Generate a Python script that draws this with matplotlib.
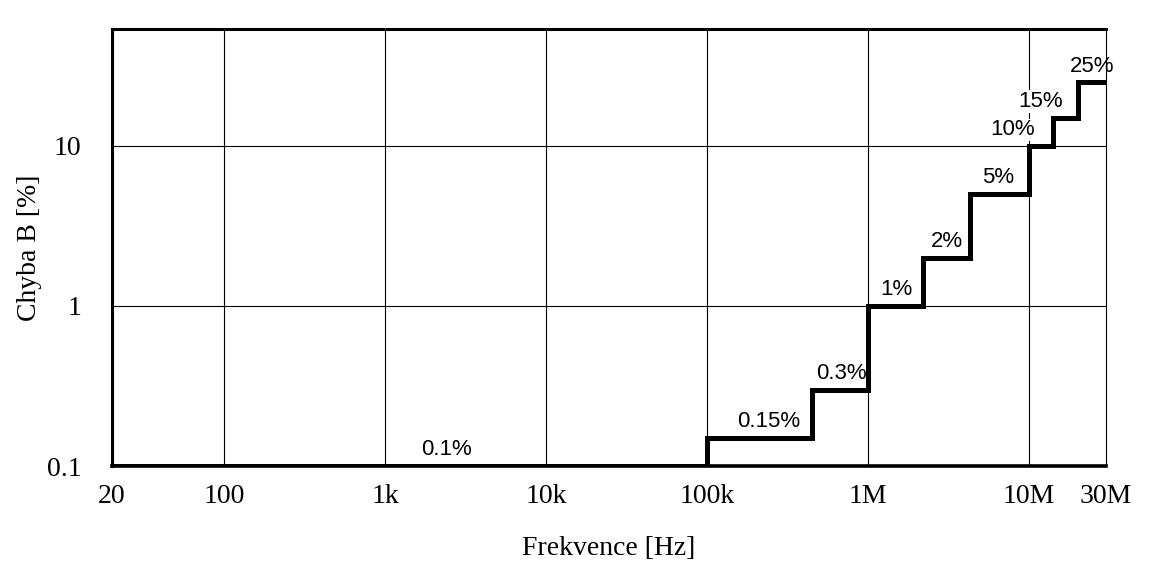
import matplotlib
matplotlib.use("Agg")
import matplotlib.pyplot as plt
from matplotlib.ticker import FixedLocator, FixedFormatter, NullLocator

# step edges (Hz) and error level on each step (%)
edges = [20, 1e5, 4.5e5, 1e6, 2.2e6, 4.3e6, 1e7, 1.4e7, 2e7, 3e7]
levels = [0.1, 0.15, 0.3, 1, 2, 5, 10, 15, 25]
labels = ["0.1%", "0.15%", "0.3%", "1%", "2%", "5%", "10%", "15%", "25%"]
label_x = [2.4e3, 2.4e5, 6.8e5, 1.5e6, 3.1e6, 6.4e6, 7.9e6, 1.17e7, 2.45e7]

xticks = [20, 100, 1e3, 1e4, 1e5, 1e6, 1e7, 3e7]
xtick_labels = ["20", "100", "1k", "10k", "100k", "1M", "10M", "30M"]
yticks = [0.1, 1, 10]
ytick_labels = ["0.1", "1", "10"]

serif = "Liberation Serif"
sans = "Liberation Sans"

fig = plt.figure(figsize=(11.51, 5.71), dpi=100)
ax = fig.add_axes([112 / 1151, 1 - 466 / 571, 994 / 1151, 437 / 571])
ax.set_xscale("log")
ax.set_yscale("log")
ax.set_xlim(20, 3e7)
ax.set_ylim(0.1, 53.7)

# grid drawn by hand so the ends of the axis get no line
for x in xticks[1:-1]:
    ax.axvline(x, color="black", lw=0.8, zorder=1)
for y in yticks[1:]:
    ax.axhline(y, color="black", lw=0.8, zorder=1)

ax.stairs(levels, edges, color="black", lw=3.6, baseline=None, zorder=3)

for x, y, t in zip(label_x, levels, labels):
    ax.annotate(t, xy=(x, y), xytext=(0, 4), textcoords="offset points",
                ha="center", va="bottom", fontsize=16, family=sans,
                bbox=dict(facecolor="white", edgecolor="none", pad=0.5),
                zorder=2, annotation_clip=False)

ax.xaxis.set_major_locator(FixedLocator(xticks))
ax.xaxis.set_major_formatter(FixedFormatter(xtick_labels))
ax.xaxis.set_minor_locator(NullLocator())
ax.yaxis.set_major_locator(FixedLocator(yticks))
ax.yaxis.set_major_formatter(FixedFormatter(ytick_labels))
ax.yaxis.set_minor_locator(NullLocator())
ax.tick_params(length=0, labelsize=20, pad=13)
ax.tick_params(axis="y", pad=22)
for lab in ax.get_xticklabels() + ax.get_yticklabels():
    lab.set_family(serif)

ax.spines["left"].set_linewidth(2.2)
ax.spines["bottom"].set_linewidth(2.6)
ax.spines["top"].set_linewidth(2.2)
ax.spines["right"].set_linewidth(0.8)

ax.set_xlabel("Frekvence [Hz]", family=serif, fontsize=20)
ax.set_ylabel("Chyba B [%]", family=serif, fontsize=20)
ax.xaxis.set_label_coords(0.5, -0.16)
ax.yaxis.set_label_coords(-0.07, 0.5)

fig.savefig("out.png", dpi=100)
